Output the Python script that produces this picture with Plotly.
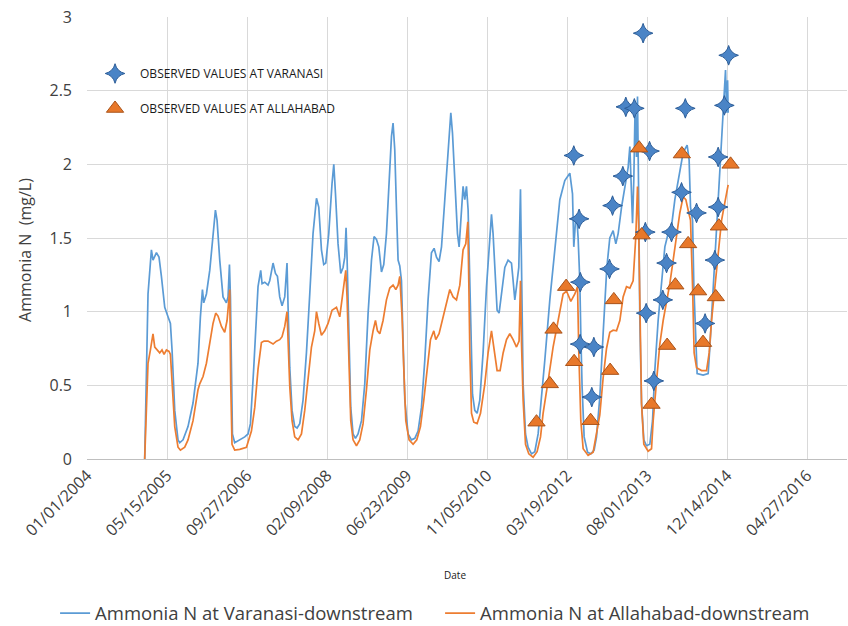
import pandas as pd
import plotly.graph_objects as go

# ---- Simulated ammonia N (mg/L); dates given as decimal years ----
varanasi_year = [
    2004.987, 2005.016, 2005.044, 2005.102, 2005.129, 2005.188, 2005.232, 2005.273, 2005.330, 2005.386,
    2005.427, 2005.455, 2005.501, 2005.557, 2005.586, 2005.643, 2005.728, 2005.814, 2005.899, 2005.940,
    2005.975, 2005.997, 2006.043, 2006.100, 2006.156, 2006.197, 2006.225, 2006.271, 2006.327, 2006.385,
    2006.413, 2006.437, 2006.454, 2006.471, 2006.488, 2006.527, 2006.613, 2006.699, 2006.755, 2006.796,
    2006.853, 2006.892, 2006.926, 2006.972, 2006.995, 2007.041, 2007.097, 2007.126, 2007.183, 2007.224,
    2007.258, 2007.297, 2007.337, 2007.383, 2007.422, 2007.440, 2007.469, 2007.508, 2007.554, 2007.594,
    2007.640, 2007.696, 2007.754, 2007.811, 2007.867, 2007.926, 2007.965, 2008.011, 2008.050, 2008.085,
    2008.136, 2008.192, 2008.222, 2008.251, 2008.295, 2008.341, 2008.381, 2008.410, 2008.432, 2008.449,
    2008.478, 2008.512, 2008.552, 2008.593, 2008.637, 2008.696, 2008.752, 2008.809, 2008.867, 2008.911,
    2008.952, 2008.992, 2009.038, 2009.077, 2009.123, 2009.168, 2009.209, 2009.236, 2009.265, 2009.295,
    2009.322, 2009.351, 2009.380, 2009.407, 2009.437, 2009.493, 2009.551, 2009.608, 2009.664, 2009.722,
    2009.779, 2009.835, 2009.893, 2009.938, 2009.979, 2010.023, 2010.065, 2010.121, 2010.177, 2010.224,
    2010.253, 2010.292, 2010.338, 2010.366, 2010.407, 2010.434, 2010.463, 2010.492, 2010.520, 2010.537,
    2010.561, 2010.595, 2010.634, 2010.674, 2010.720, 2010.776, 2010.835, 2010.891, 2010.920, 2010.947,
    2010.977, 2011.016, 2011.050, 2011.091, 2011.148, 2011.204, 2011.262, 2011.290, 2011.319, 2011.348,
    2011.387, 2011.416, 2011.434, 2011.461, 2011.502, 2011.546, 2011.605, 2011.661, 2011.718, 2011.776,
    2011.832, 2011.918, 2012.003, 2012.089, 2012.174, 2012.260, 2012.306, 2012.328, 2012.358, 2012.380,
    2012.402, 2012.431, 2012.448, 2012.470, 2012.505, 2012.563, 2012.619, 2012.676, 2012.717, 2012.773,
    2012.830, 2012.893, 2012.944, 2013.001, 2013.047, 2013.087, 2013.145, 2013.201, 2013.258, 2013.287,
    2013.316, 2013.333, 2013.355, 2013.377, 2013.401, 2013.418, 2013.436, 2013.458, 2013.487, 2013.526,
    2013.572, 2013.629, 2013.675, 2013.714, 2013.771, 2013.829, 2013.886, 2013.942, 2014.000, 2014.057,
    2014.142, 2014.199, 2014.267, 2014.301, 2014.325, 2014.360, 2014.382, 2014.416, 2014.438, 2014.541,
    2014.627, 2014.656, 2014.702, 2014.741, 2014.781, 2014.827, 2014.873, 2014.900, 2014.924, 2014.941,
    2014.959, 2014.969,
]
varanasi_nh3 = [
    0.00, 0.49, 1.12, 1.42, 1.35, 1.40, 1.37, 1.24, 1.03, 0.965,
    0.92, 0.74, 0.33, 0.13, 0.11, 0.13, 0.22, 0.38, 0.65, 0.965,
    1.15, 1.06, 1.12, 1.28, 1.55, 1.69, 1.62, 1.35, 1.10, 1.06,
    1.10, 1.32, 1.10, 0.51, 0.17, 0.11, 0.13, 0.15, 0.17, 0.24,
    0.62, 0.95, 1.17, 1.28, 1.19, 1.20, 1.18, 1.21, 1.33, 1.26,
    1.24, 1.10, 1.04, 1.10, 1.33, 1.03, 0.62, 0.33, 0.22, 0.21,
    0.24, 0.40, 0.72, 1.12, 1.53, 1.77, 1.71, 1.42, 1.32, 1.33,
    1.53, 1.87, 2.00, 1.80, 1.46, 1.26, 1.30, 1.37, 1.57, 1.37,
    0.85, 0.35, 0.17, 0.14, 0.17, 0.26, 0.51, 0.99, 1.35, 1.51,
    1.49, 1.44, 1.27, 1.32, 1.53, 1.87, 2.19, 2.28, 2.10, 1.69,
    1.35, 1.31, 1.21, 0.81, 0.40, 0.17, 0.13, 0.14, 0.19, 0.35,
    0.67, 1.08, 1.40, 1.43, 1.37, 1.34, 1.44, 1.76, 2.10, 2.35,
    2.21, 1.87, 1.53, 1.44, 1.69, 1.85, 1.76, 1.85, 1.69, 1.42,
    0.85, 0.44, 0.33, 0.31, 0.40, 0.72, 1.17, 1.53, 1.66, 1.53,
    1.26, 1.01, 0.99, 1.12, 1.30, 1.35, 1.33, 1.21, 1.08, 1.17,
    1.30, 1.83, 1.19, 0.51, 0.17, 0.08, 0.035, 0.05, 0.17, 0.40,
    0.67, 1.08, 1.42, 1.76, 1.89, 1.94, 1.80, 1.44, 1.62, 1.64,
    1.50, 1.21, 0.85, 0.49, 0.15, 0.046, 0.035, 0.06, 0.15, 0.42,
    0.85, 1.30, 1.50, 1.55, 1.46, 1.53, 1.71, 1.85, 1.98, 2.12,
    1.85, 1.60, 1.90, 2.39, 2.05, 2.46, 1.85, 0.94, 0.38, 0.13,
    0.09, 0.10, 0.26, 0.60, 0.94, 1.21, 1.44, 1.53, 1.58, 1.76,
    1.96, 2.08, 2.13, 2.03, 1.71, 1.62, 1.17, 0.72, 0.58, 0.57,
    0.58, 0.76, 1.08, 1.40, 1.71, 2.03, 2.30, 2.53, 2.64, 2.35,
    2.57, 2.35,
]

allahabad_year = [
    2004.987, 2005.004, 2005.044, 2005.085, 2005.129, 2005.159, 2005.198, 2005.244, 2005.283, 2005.318,
    2005.359, 2005.403, 2005.427, 2005.455, 2005.501, 2005.557, 2005.598, 2005.672, 2005.728, 2005.814,
    2005.899, 2005.929, 2005.985, 2006.043, 2006.100, 2006.156, 2006.202, 2006.242, 2006.300, 2006.356,
    2006.396, 2006.430, 2006.442, 2006.459, 2006.481, 2006.527, 2006.613, 2006.728, 2006.772, 2006.813,
    2006.870, 2006.926, 2006.984, 2007.029, 2007.097, 2007.183, 2007.241, 2007.297, 2007.337, 2007.383,
    2007.422, 2007.440, 2007.469, 2007.508, 2007.554, 2007.611, 2007.669, 2007.725, 2007.782, 2007.840,
    2007.896, 2007.926, 2007.965, 2008.011, 2008.067, 2008.124, 2008.192, 2008.268, 2008.324, 2008.364,
    2008.398, 2008.427, 2008.449, 2008.478, 2008.512, 2008.552, 2008.610, 2008.666, 2008.723, 2008.781,
    2008.838, 2008.894, 2008.935, 2008.969, 2009.009, 2009.065, 2009.123, 2009.180, 2009.236, 2009.283,
    2009.322, 2009.351, 2009.368, 2009.390, 2009.419, 2009.454, 2009.510, 2009.579, 2009.642, 2009.705,
    2009.762, 2009.818, 2009.876, 2009.933, 2009.967, 2010.023, 2010.082, 2010.150, 2010.207, 2010.263,
    2010.321, 2010.378, 2010.434, 2010.480, 2010.515, 2010.532, 2010.549, 2010.578, 2010.617, 2010.674,
    2010.732, 2010.806, 2010.862, 2010.920, 2010.960, 2011.016, 2011.067, 2011.119, 2011.177, 2011.233,
    2011.290, 2011.348, 2011.392, 2011.416, 2011.434, 2011.461, 2011.502, 2011.558, 2011.632, 2011.700,
    2011.759, 2011.803, 2011.889, 2011.974, 2012.060, 2012.145, 2012.204, 2012.277, 2012.346, 2012.392,
    2012.414, 2012.448, 2012.488, 2012.573, 2012.659, 2012.717, 2012.773, 2012.830, 2012.888, 2012.944,
    2013.001, 2013.059, 2013.116, 2013.172, 2013.230, 2013.287, 2013.343, 2013.389, 2013.418, 2013.436,
    2013.458, 2013.487, 2013.526, 2013.600, 2013.658, 2013.686, 2013.744, 2013.800, 2013.857, 2013.915,
    2013.971, 2014.028, 2014.086, 2014.142, 2014.199, 2014.245, 2014.284, 2014.325, 2014.360, 2014.387,
    2014.428, 2014.514, 2014.599, 2014.644, 2014.685, 2014.741, 2014.798, 2014.856, 2014.912, 2014.969,
]
allahabad_nh3 = [
    0.00, 0.24, 0.65, 0.74, 0.85, 0.76, 0.74, 0.72, 0.74, 0.71,
    0.74, 0.73, 0.71, 0.51, 0.22, 0.08, 0.06, 0.08, 0.13, 0.26,
    0.47, 0.51, 0.56, 0.65, 0.78, 0.92, 0.99, 0.97, 0.90, 0.86,
    0.94, 1.12, 1.15, 0.51, 0.10, 0.06, 0.065, 0.08, 0.13, 0.19,
    0.35, 0.61, 0.79, 0.80, 0.80, 0.78, 0.80, 0.81, 0.83, 0.90,
    1.00, 0.78, 0.49, 0.26, 0.15, 0.13, 0.17, 0.33, 0.56, 0.76,
    0.87, 1.00, 0.92, 0.84, 0.87, 0.92, 1.01, 1.03, 0.965, 1.08,
    1.17, 1.28, 1.10, 0.62, 0.26, 0.13, 0.09, 0.13, 0.24, 0.47,
    0.74, 0.87, 0.94, 0.87, 0.85, 0.94, 1.08, 1.16, 1.18, 1.15,
    1.18, 1.24, 1.15, 0.965, 0.62, 0.26, 0.13, 0.10, 0.13, 0.22,
    0.40, 0.62, 0.81, 0.87, 0.81, 0.85, 0.94, 1.06, 1.15, 1.10,
    1.08, 1.18, 1.42, 1.46, 1.61, 1.20, 0.74, 0.31, 0.25, 0.24,
    0.31, 0.51, 0.72, 0.87, 0.76, 0.60, 0.60, 0.72, 0.81, 0.85,
    0.81, 0.76, 0.80, 1.21, 0.78, 0.40, 0.10, 0.035, 0.012, 0.05,
    0.15, 0.31, 0.53, 0.76, 0.94, 1.12, 1.14, 1.07, 1.12, 1.17,
    0.72, 0.26, 0.07, 0.024, 0.046, 0.17, 0.30, 0.55, 0.75, 0.86,
    0.874, 0.87, 0.94, 1.10, 1.17, 1.16, 1.21, 1.51, 1.85, 1.60,
    0.94, 0.375, 0.10, 0.053, 0.07, 0.26, 0.53, 0.78, 0.94, 1.056,
    1.19, 1.35, 1.51, 1.67, 1.78, 1.76, 1.69, 1.62, 1.17, 0.72,
    0.62, 0.60, 0.60, 0.72, 0.94, 1.17, 1.40, 1.62, 1.74, 1.86,
]

# ---- Observed values ----
obs_varanasi_year = [
    2012.328, 2012.419, 2012.440, 2012.436, 2012.671, 2012.636, 2012.939, 2012.991, 2013.167, 2013.218,
    2013.364, 2013.514, 2013.624, 2013.552, 2013.566, 2013.697, 2013.851, 2013.915, 2014.000, 2014.236,
    2014.171, 2014.428, 2014.574, 2014.741, 2014.798, 2014.798, 2014.904, 2014.977,
]
obs_varanasi_nh3 = [
    2.06, 1.63, 1.20, 0.78, 0.76, 0.42, 1.29, 1.72, 1.92, 2.39,
    2.38, 2.89, 2.09, 1.54, 0.99, 0.53, 1.08, 1.33, 1.54, 2.38,
    1.81, 1.67, 0.92, 1.35, 1.71, 2.05, 2.40, 2.74,
]
obs_allahabad_year = [
    2011.690, 2011.918, 2011.981, 2012.197, 2012.334, 2012.616, 2012.950, 2013.013, 2013.446, 2013.489,
    2013.658, 2013.925, 2014.065, 2014.177, 2014.284, 2014.455, 2014.539, 2014.758, 2014.810, 2015.010,
]
obs_allahabad_nh3 = [
    0.25, 0.51, 0.88, 1.17, 0.66, 0.26, 0.60, 1.08, 2.11, 1.52,
    0.37, 0.77, 1.18, 2.07, 1.46, 1.14, 0.79, 1.10, 1.58, 2.00,
]

line_names = ["Ammonia N at Varanasi-downstream", "Ammonia N at Allahabad-downstream"]
obs_names = ["OBSERVED VALUES AT VARANASI", "OBSERVED VALUES AT ALLAHABAD"]

BASE = pd.Timestamp("2004-01-01")


def to_dates(years):
    return [BASE + pd.Timedelta(days=(y - 2004.0) * 365.25) for y in years]


FONT = "Open Sans"
TXT = "#404040"

fig = go.Figure()
fig.add_trace(go.Scatter(
    x=to_dates(varanasi_year), y=varanasi_nh3, mode="lines", name=line_names[0],
    line=dict(color="#5b9bd5", width=1.7), legend="legend",
))
fig.add_trace(go.Scatter(
    x=to_dates(allahabad_year), y=allahabad_nh3, mode="lines", name=line_names[1],
    line=dict(color="#ed7d31", width=1.7), legend="legend",
))
fig.add_trace(go.Scatter(
    x=to_dates(obs_varanasi_year), y=obs_varanasi_nh3, mode="markers", name=obs_names[0],
    marker=dict(symbol="star-diamond", size=14, color="#4a84c6",
                line=dict(color="#2c5d98", width=1)),
    legend="legend2", legendgroup="g1",
))
fig.add_trace(go.Scatter(
    x=to_dates(obs_allahabad_year), y=obs_allahabad_nh3, mode="markers", name=obs_names[1],
    marker=dict(symbol="triangle-up", size=15, color="#e8782a",
                line=dict(color="#a9531a", width=1)),
    legend="legend2", legendgroup="g2",
))

fig.update_layout(
    width=848, height=626,
    margin=dict(l=87, r=1, t=17, b=167, autoexpand=False),
    paper_bgcolor="white", plot_bgcolor="white",
    font=dict(family=FONT, color=TXT),
    showlegend=True,
    legend=dict(
        orientation="h", x=-0.042, xanchor="left", y=-0.307, yanchor="top",
        font=dict(size=18.5, color=TXT), bgcolor="rgba(0,0,0,0)",
        entrywidth=340, entrywidthmode="pixels",
    ),
    legend2=dict(
        orientation="v", x=0.004, xanchor="left", y=0.905, yanchor="top",
        font=dict(size=12, color="#1a1a1a"), bgcolor="rgba(0,0,0,0)",
        tracegroupgap=16, itemwidth=40,
    ),
    xaxis=dict(
        type="date",
        range=[BASE, pd.Timestamp("2017-01-01")],
        tick0=BASE, dtick=500 * 86400000, tickformat="%m/%d/%Y",
        tickangle=-45, tickfont=dict(size=16, color=TXT),
        showgrid=True, gridcolor="#d9d9d9", gridwidth=1,
        showline=True, linecolor="#bfbfbf", linewidth=1,
        ticks="", zeroline=False,
    ),
    yaxis=dict(
        range=[0, 3], dtick=0.5, tickformat="~g",
        tickfont=dict(size=16, color=TXT),
        showgrid=True, gridcolor="#d9d9d9", gridwidth=1,
        ticks="", ticklabelstandoff=14, zeroline=False, showline=False,
    ),
    annotations=[
        dict(text="Ammonia N  (mg/L)", textangle=-90, xref="paper", yref="paper",
             x=-0.0816, y=0.473, xanchor="center", yanchor="middle", showarrow=False,
             font=dict(size=16, color=TXT)),
        dict(text="Date", xref="paper", yref="paper", x=0.484, y=-0.262,
             xanchor="center", yanchor="middle", showarrow=False,
             font=dict(size=10, color="#1a1a1a")),
    ],
)

fig.write_html("out.html")
